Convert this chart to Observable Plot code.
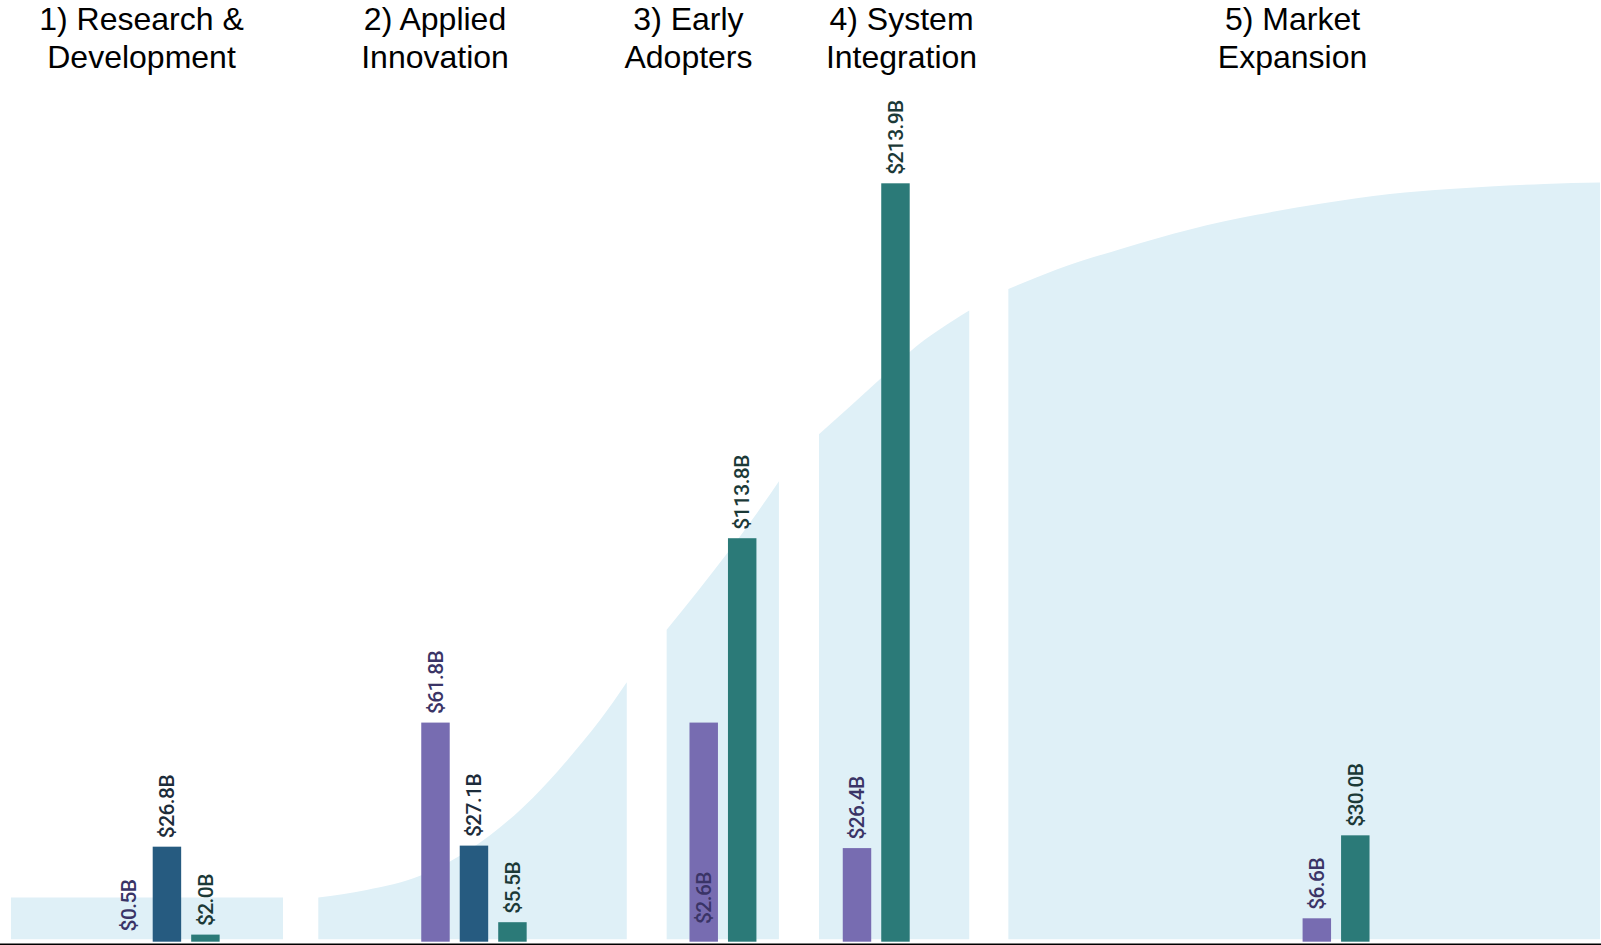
<!DOCTYPE html>
<html>
<head>
<meta charset="utf-8">
<script src="https://cdn.jsdelivr.net/npm/d3@7"></script>
<script src="https://cdn.jsdelivr.net/npm/@observablehq/plot@0.6"></script>
<style>
  html, body { margin: 0; padding: 0; background: #ffffff; }
  #chart svg { display: block; }
  .barlabels text { letter-spacing: -0.6px; }
</style>
</head>
<body>
<div id="chart"></div>
<script>
// ---------- data ----------
const stageTitles = [
  "1) Research &\nDevelopment",
  "2) Applied\nInnovation",
  "3) Early\nAdopters",
  "4) System\nIntegration",
  "5) Market\nExpansion"
];
// stage spans on an abstract 0–100 adoption timeline
const stageStart = [0.06, 19.39, 41.30, 50.88, 62.79];
const stageEnd   = [17.17, 38.79, 48.36, 60.33, 100];
const titleAt    = [8.24, 26.70, 42.64, 56.04, 80.63];
const groupAt    = [9.87, 29.18, 44.84, 54.48, 83.40];

const seriesNames = ["Series A", "Series B", "Series C"];
const barStage    = [0, 0, 0, 1, 1, 1, 2, 2, 3, 3, 4, 4];
const barSeries   = [0, 1, 2, 0, 1, 2, 0, 2, 0, 2, 0, 2];
// drawn bar heights as they appear in the picture
const barValues   = [0.0, 26.8, 2.0, 61.8, 27.1, 5.5, 61.8, 113.8, 26.4, 213.9, 6.6, 30.0];
// printed value labels
const labelValues = [0.5, 26.8, 2.0, 61.8, 27.1, 5.5, 2.6, 113.8, 26.4, 213.9, 6.6, 30.0];

// adoption S-curve sampled from the background shape ($B scale)
const curveT = [0.06, 17.17,
  19.39, 22.43, 25.79, 27.61, 30.13, 32.89, 35.01, 37.11, 38.79,
  41.30, 45.18, 46.96, 48.36,
  50.88, 54.78, 56.60, 60.33,
  62.79, 65.83, 70.02, 74.21, 78.41, 82.60, 86.79, 90.57, 93.08, 96.50, 100];
const curveV = [12.5, 12.5,
  12.5, 14.6, 18.6, 22.5, 29.8, 40.6, 51.0, 62.5, 73.2,
  88.0, 110.0, 120.8, 129.9,
  143.1, 158.9, 166.4, 178.0,
  184.1, 189.6, 195.6, 200.9, 205.0, 208.3, 210.9, 212.3, 213.0, 213.7, 214.1];

// ---------- tables built from the arrays ----------
const step = 2.42, barW = 1.79, areaBase = 0.7;
const curve = curveT.map((t, i) => ({
  t, v: curveV[i],
  stage: stageStart.findIndex((s, k) => t >= s - 1e-9 && t <= stageEnd[k] + 1e-9)
}));
const bars = barValues.map((v, i) => {
  const s = barStage[i];
  const members = barStage.map((b, j) => b === s ? j : -1).filter(j => j >= 0);
  const k = members.indexOf(i), n = members.length;
  const xc = groupAt[s] + (k - (n - 1) / 2) * step;
  return {stage: s, series: seriesNames[barSeries[i]], sIdx: barSeries[i], value: v, label: labelValues[i], xc, x1: xc - barW / 2, x2: xc + barW / 2};
});
const titles = stageTitles.map((t, i) => ({title: t, x: titleAt[i]}));

const barColors = ["#776cb1", "#265b80", "#2b7a78"];
const labelColors = ["#3a3466", "#1d2c3a", "#1b3937"];

const chart = Plot.plot({
  width: 1601,
  height: 945,
  marginTop: 0,
  marginLeft: 0,
  marginRight: 0,
  marginBottom: 1.5,
  x: {domain: [0, 100], insetLeft: 10, insetRight: 1, axis: null},
  y: {domain: [0, 265.6], insetBottom: 1.8, axis: null},
  style: {background: "#ffffff"},
  marks: [
    Plot.areaY(curve, {x: "t", y1: areaBase, y2: "v", z: "stage", fill: "#dff0f7", curve: "monotone-x"}),
    Plot.rectY(bars, {x1: "x1", x2: "x2", y1: 0, y2: "value", fill: d => barColors[d.sIdx]}),
    Plot.text(bars, {
      x: "xc", y: "label",
      text: d => `$${d.label.toFixed(1)}B`,
      rotate: -90, textAnchor: "start", dy: -9,
      fill: d => labelColors[d.sIdx],
      fontSize: 21, fontWeight: 500, fontFamily: "Roboto, 'Noto Sans', sans-serif",
      className: "barlabels"
    }),
    Plot.text(titles, {
      x: "x", text: "title", frameAnchor: "top", lineAnchor: "top", dy: 1.8,
      lineHeight: 1.2, fontSize: 32, fill: "#000000",
      fontFamily: "'Liberation Sans', Arial, sans-serif"
    }),
    Plot.ruleY([0], {stroke: "#000000", strokeWidth: 1.6, dy: 2})
  ]
});
document.getElementById("chart").appendChild(chart);
</script>
</body>
</html>
